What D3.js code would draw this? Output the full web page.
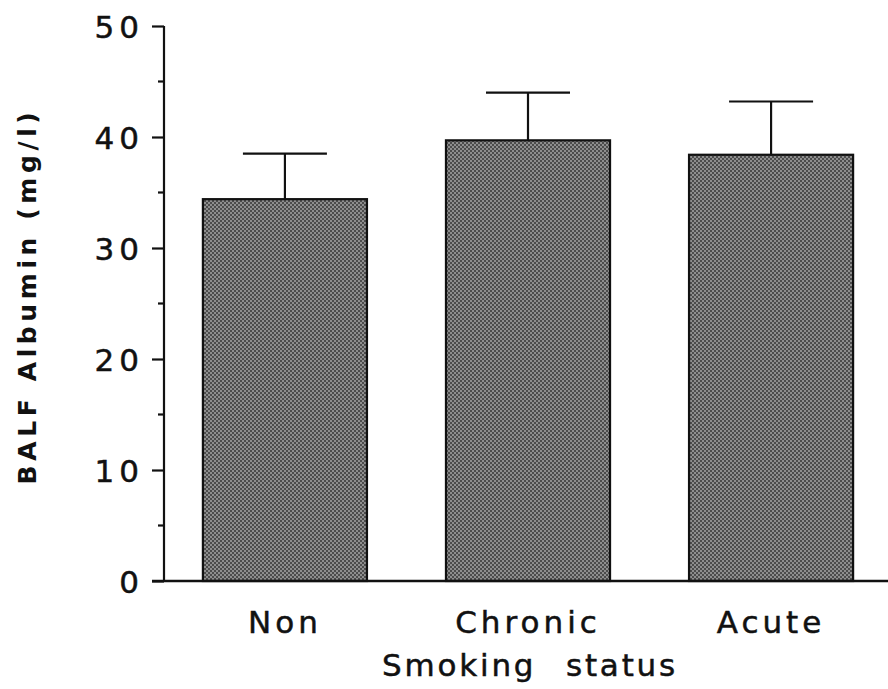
<!DOCTYPE html>
<html>
<head>
<meta charset="utf-8">
<script src="https://cdn.jsdelivr.net/npm/d3@7"></script>
<style>
  html, body { margin: 0; padding: 0; background: #fff; }
  svg { display: block; }
  text { font-family: "DejaVu Sans", Verdana, sans-serif; fill: #111; }
</style>
</head>
<body>
<svg id="chart" width="888" height="689"></svg>
<script>
// BALF albumin by smoking status: mean with upper SEM whisker
const groups = ["Non", "Chronic", "Acute"];
const means = [34.4, 39.7, 38.4];
const sems = [4.1, 4.3, 4.8];
const yTicks = [0, 10, 20, 30, 40, 50];
const yMinorTicks = [5, 15, 25, 35, 45];
const xTitle = "Smoking status";
const yTitle = "BALF Albumin (mg/l)";

const svg = d3.select("#chart");

const axisX = 164, baseY = 581, topY = 26;

const y = d3.scaleLinear().domain([0, 50]).range([baseY, topY]);
const x = d3.scaleBand()
  .domain(groups)
  .range([axisX, 892])
  .paddingInner(0.325)
  .paddingOuter(0.16);

// stippled grey fill used by the bars
const defs = svg.append("defs");
const pat = defs.append("pattern")
  .attr("id", "stipple")
  .attr("patternUnits", "userSpaceOnUse")
  .attr("width", 4).attr("height", 4);
pat.append("rect").attr("width", 4).attr("height", 4).attr("fill", "#8e8e8e");
pat.append("rect").attr("x", 0).attr("y", 0).attr("width", 2).attr("height", 2).attr("fill", "#4c4c4c");
pat.append("rect").attr("x", 2).attr("y", 2).attr("width", 2).attr("height", 2).attr("fill", "#4c4c4c");

const rows = groups.map((g, i) => ({ g, mean: means[i], sem: sems[i] }));

// error whiskers (upper only), drawn before bars so the stem meets the bar top
const capHalf = 42;
const whisk = svg.append("g").attr("stroke", "#111").attr("stroke-width", 2.2);
rows.forEach(d => {
  const cx = x(d.g) + x.bandwidth() / 2;
  whisk.append("line")
    .attr("x1", cx).attr("x2", cx)
    .attr("y1", y(d.mean)).attr("y2", y(d.mean + d.sem));
  whisk.append("line")
    .attr("x1", cx - capHalf).attr("x2", cx + capHalf)
    .attr("y1", y(d.mean + d.sem)).attr("y2", y(d.mean + d.sem));
});

// bars
svg.append("g").selectAll("rect")
  .data(rows)
  .join("rect")
  .attr("x", d => x(d.g))
  .attr("y", d => y(d.mean))
  .attr("width", x.bandwidth())
  .attr("height", d => y(0) - y(d.mean))
  .attr("fill", "url(#stipple)")
  .attr("stroke", "#111")
  .attr("stroke-width", 2.2);

// shared look for the plain labels
function labelStyle(sel, size, spacing) {
  sel.style("font-family", "'DejaVu Sans', Verdana, sans-serif")
    .style("font-size", size + "px")
    .style("letter-spacing", spacing + "px")
    .attr("fill", "#111")
    .attr("stroke", "#111")
    .attr("stroke-width", 0.5);
}

// y axis with major and minor ticks
const yAxis = d3.axisLeft(y).tickValues(yTicks).tickSize(12).tickPadding(8)
  .tickFormat(d3.format("d"));
const gy = svg.append("g").attr("transform", `translate(${axisX},0)`).call(yAxis);
gy.select(".domain").attr("stroke", "#111").attr("stroke-width", 2.2)
  .attr("d", `M0,${topY}V${baseY}`);
gy.selectAll(".tick line").attr("stroke", "#111").attr("stroke-width", 2.2);
gy.selectAll(".tick text")
  .call(labelStyle, 31, 5)
  .attr("dy", "0.38em");

svg.append("g").attr("transform", `translate(${axisX},0)`)
  .selectAll("line").data(yMinorTicks).join("line")
  .attr("x1", -6).attr("x2", 0)
  .attr("y1", d => y(d)).attr("y2", d => y(d))
  .attr("stroke", "#111").attr("stroke-width", 2.2);

// x baseline, running from the zero tick to the right edge
svg.append("line")
  .attr("x1", axisX - 12).attr("x2", 888)
  .attr("y1", baseY).attr("y2", baseY)
  .attr("stroke", "#111").attr("stroke-width", 2.4);

// category labels
svg.append("g").selectAll("text")
  .data(groups)
  .join("text")
  .attr("x", d => x(d) + x.bandwidth() / 2)
  .attr("y", 633)
  .attr("text-anchor", "middle")
  .call(labelStyle, 31, 4)
  .text(d => d);

// axis titles
svg.append("text")
  .attr("x", 530)
  .attr("y", 676)
  .attr("text-anchor", "middle")
  .call(labelStyle, 31, 2.8)
  .style("word-spacing", "17px")
  .text(xTitle);

svg.append("text")
  .attr("transform", "translate(36,296) rotate(-90)")
  .attr("text-anchor", "middle")
  .style("font-size", "25px")
  .style("font-weight", "bold")
  .style("letter-spacing", "4.6px")
  .text(yTitle);
</script>
</body>
</html>
